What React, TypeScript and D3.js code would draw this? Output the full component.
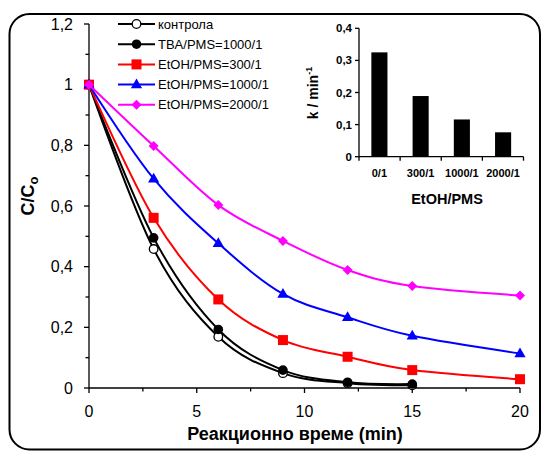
import React from 'react';
import * as d3 from 'd3';

// ---- Data ----
const times = [0, 3, 6, 9, 12, 15, 20];
const controlValues = [1, 0.458, 0.169, 0.049, 0.016, 0.009];
const tbaValues = [1, 0.495, 0.193, 0.059, 0.019, 0.013];
const etoh300Values = [1, 0.561, 0.292, 0.158, 0.103, 0.059, 0.029];
const etoh1000Values = [1, 0.69, 0.477, 0.31, 0.233, 0.172, 0.114];
const etoh2000Values = [1, 0.798, 0.603, 0.485, 0.389, 0.336, 0.305];

const seriesNames = ['контрола', 'TBA/PMS=1000/1', 'EtOH/PMS=300/1', 'EtOH/PMS=1000/1', 'EtOH/PMS=2000/1'];
const seriesColors = ['#000000', '#000000', '#FF0000', '#0000FF', '#FF00FF'];
const seriesMarkers = ['openCircle', 'circle', 'square', 'triangle', 'diamond'];
const seriesValues = [controlValues, tbaValues, etoh300Values, etoh1000Values, etoh2000Values];

const xTicksMain = [0, 5, 10, 15, 20];
const xMinorTicks = [2.5, 7.5, 12.5, 17.5];
const yTicksMain = [0, 0.2, 0.4, 0.6, 0.8, 1, 1.2];
const yMinorTicks = [0.1, 0.3, 0.5, 0.7, 0.9, 1.1];

const insetCategories = ['0/1', '300/1', '1000/1', '2000/1'];
const insetK = [0.325, 0.189, 0.116, 0.076];
const insetYTicks = [0, 0.1, 0.2, 0.3, 0.4];

const FONT = 'Liberation Sans, Arial, Helvetica, sans-serif';

const fmt = (d: number) => (Number.isInteger(d) ? String(d) : d.toFixed(1).replace('.', ','));

function Marker({ type, cx, cy, color }: { type: string; cx: number; cy: number; color: string }) {
  if (type === 'openCircle') return <circle cx={cx} cy={cy} r={4.3} fill="#fff" stroke={color} strokeWidth={1.3} />;
  if (type === 'circle') return <circle cx={cx} cy={cy} r={4.8} fill={color} />;
  if (type === 'square') return <rect x={cx - 5} y={cy - 5} width={10} height={10} fill={color} />;
  if (type === 'triangle') {
    const p = d3.symbol().type(d3.symbolTriangle).size(55)();
    return <path d={p || ''} transform={`translate(${cx},${cy + 0.5})`} fill={color} />;
  }
  const s = 5;
  return <path d={`M${cx},${cy - s}L${cx + s},${cy}L${cx},${cy + s}L${cx - s},${cy}Z`} fill={color} />;
}

export default function App() {
  const W = 543, H = 452;
  const x = d3.scaleLinear().domain([0, 20]).range([89, 520]);
  const y = d3.scaleLinear().domain([0, 1.2]).range([388, 24]);

  const line = d3
    .line<[number, number]>()
    .x((d) => x(d[0]))
    .y((d) => y(d[1]))
    .curve(d3.curveCatmullRom.alpha(0));

  // inset
  const ix = d3.scaleBand().domain(insetCategories).range([359, 523.5]).paddingInner(0.61).paddingOuter(0.3);
  const iy = d3.scaleLinear().domain([0, 0.4]).range([156.7, 28.3]);
  const bandStep = (523.5 - 359) / insetCategories.length;

  const legendY = (i: number) => 24 + i * 20.2;

  return (
    <div style={{ position: 'absolute', left: 0, top: 0 }}>
      <svg width={W} height={H} style={{ display: 'block', background: '#fff' }} fontFamily={FONT}>
        <rect x={9.5} y={14} width={530.5} height={435.5} rx={20} ry={20} fill="#fff" stroke="#000" strokeWidth={2} />

        {/* main axes */}
        <line x1={x(0)} x2={x(20)} y1={y(0)} y2={y(0)} stroke="#000" strokeWidth={1.3} />
        <line x1={x(0)} x2={x(0)} y1={y(0)} y2={y(1.2)} stroke="#000" strokeWidth={1.3} />
        {xTicksMain.map((t) => (
          <g key={'xt' + t}>
            <line x1={x(t)} x2={x(t)} y1={y(0)} y2={y(0) + 5} stroke="#000" strokeWidth={1.3} />
            <text x={x(t)} y={417} textAnchor="middle" fontSize={16}>{fmt(t)}</text>
          </g>
        ))}
        {xMinorTicks.map((t) => (
          <line key={'xm' + t} x1={x(t)} x2={x(t)} y1={y(0)} y2={y(0) + 3.5} stroke="#000" strokeWidth={1.3} />
        ))}
        {yTicksMain.map((t) => (
          <g key={'yt' + t}>
            <line x1={x(0) - 5} x2={x(0)} y1={y(t)} y2={y(t)} stroke="#000" strokeWidth={1.3} />
            <text x={73} y={y(t) + 5.8} textAnchor="end" fontSize={16}>{fmt(t)}</text>
          </g>
        ))}
        {yMinorTicks.map((t) => (
          <line key={'ym' + t} x1={x(0) - 3.5} x2={x(0)} y1={y(t)} y2={y(t)} stroke="#000" strokeWidth={1.3} />
        ))}

        {/* axis titles */}
        <text x={295} y={440} textAnchor="middle" fontSize={18} fontWeight="bold">Реакционно време (min)</text>
        <text transform="translate(34,196) rotate(-90)" textAnchor="middle" fontSize={18} fontWeight="bold">
          C/C<tspan fontSize={13} dy={4}>o</tspan>
        </text>

        {/* series */}
        {seriesValues.map((vals, i) => {
          const pts = vals.map((v, j) => [times[j], v] as [number, number]);
          return (
            <g key={'s' + i}>
              <path d={line(pts) || ''} fill="none" stroke={seriesColors[i]} strokeWidth={2} />
              {pts.map((p, j) => (
                <Marker key={j} type={seriesMarkers[i]} cx={x(p[0])} cy={y(p[1])} color={seriesColors[i]} />
              ))}
            </g>
          );
        })}

        {/* legend */}
        {seriesNames.map((n, i) => (
          <g key={'l' + i}>
            <line x1={118} x2={155} y1={legendY(i)} y2={legendY(i)} stroke={seriesColors[i]} strokeWidth={2} />
            <Marker type={seriesMarkers[i]} cx={136.5} cy={legendY(i)} color={seriesColors[i]} />
            <text x={158} y={legendY(i) + 4.6} fontSize={13}>{n}</text>
          </g>
        ))}

        {/* inset bar chart */}
        {insetCategories.map((c, i) => (
          <rect key={'b' + c} x={ix(c) as number} y={iy(insetK[i])} width={ix.bandwidth()} height={iy(0) - iy(insetK[i])} fill="#000" />
        ))}
        <line x1={359} x2={523.5} y1={iy(0)} y2={iy(0)} stroke="#000" strokeWidth={1.3} />
        <line x1={359} x2={359} y1={iy(0)} y2={iy(0.4)} stroke="#000" strokeWidth={1.3} />
        {d3.range(insetCategories.length + 1).map((i) => (
          <line key={'it' + i} x1={359 + i * bandStep} x2={359 + i * bandStep} y1={iy(0)} y2={iy(0) + 4} stroke="#000" strokeWidth={1.3} />
        ))}
        {insetYTicks.map((t) => (
          <g key={'iy' + t}>
            <line x1={355} x2={359} y1={iy(t)} y2={iy(t)} stroke="#000" strokeWidth={1.3} />
            <text x={352} y={iy(t) + 4} textAnchor="end" fontSize={11.5} fontWeight="bold">{fmt(t)}</text>
          </g>
        ))}
        {insetCategories.map((c) => (
          <text key={'il' + c} x={(ix(c) as number) + ix.bandwidth() / 2} y={177} textAnchor="middle" fontSize={11} fontWeight="bold">{c}</text>
        ))}
        <text x={447} y={203.5} textAnchor="middle" fontSize={14.5} fontWeight="bold">EtOH/PMS</text>
        <text transform="translate(318,93) rotate(-90)" textAnchor="middle" fontSize={14} fontWeight="bold">
          k / min<tspan fontSize={9} dy={-6}>-1</tspan>
        </text>
      </svg>
    </div>
  );
}
